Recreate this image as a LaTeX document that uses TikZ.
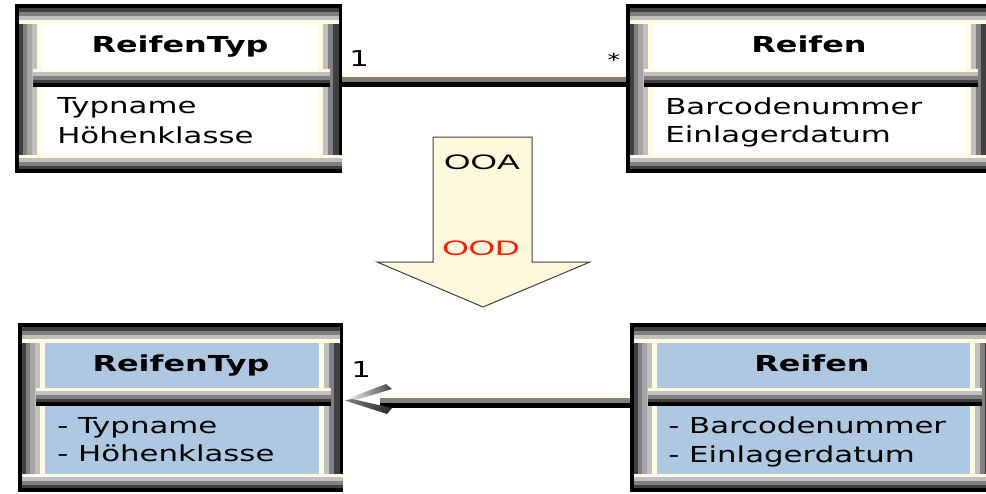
\documentclass[tikz,border=0pt]{standalone}
\usepackage{fontspec}
\newfontfamily\umlfont{DejaVu Sans}
\newfontfamily\arialfont{Liberation Sans}

\definecolor{umlcream}{RGB}{255,251,225}
\definecolor{umldark}{RGB}{64,64,64}
\definecolor{umlgray}{RGB}{128,128,128}
\definecolor{umlsilver}{RGB}{165,165,165}
\definecolor{umllight}{RGB}{192,192,192}
\definecolor{umlblue}{RGB}{174,200,225}
\definecolor{arrowfill}{RGB}{252,249,220}
\definecolor{oodred}{RGB}{255,30,0}

% bevelled class frame: name, x0, y0, width, height, interior colour
\newcommand\umlframe[6]{%
  \begin{scope}[shift={(#2,#3)}]
    \fill[black] (0,0) rectangle (#4,#5);
    % left bar
    \fill[umldark]   (4,20)  rectangle (8,#5-18);
    \fill[umlgray]   (8,20)  rectangle (12,#5-18);
    \fill[umlsilver] (12,20) rectangle (17,#5-18);
    \fill[umllight]  (17,20) rectangle (22,#5-18);
    \fill[umlcream]  (22,20) rectangle (27,#5-18);
    % right bar
    \fill[umlcream]  (#4-24,20) rectangle (#4-19,#5-18);
    \fill[umllight]  (#4-19,20) rectangle (#4-14,#5-18);
    \fill[umlgray]   (#4-14,20) rectangle (#4-9,#5-18);
    \fill[umldark]   (#4-9,20)  rectangle (#4-3,#5-18);
    % interior
    \fill[#6] (27,20) rectangle (#4-24,#5-18);
    % top band
    \fill[umldark]  (4,4)  rectangle (#4-3,8);
    \fill[umlgray]  (4,8)  rectangle (#4-3,12);
    \fill[umllight] (4,12) rectangle (#4-3,16);
    \fill[umlcream] (4,16) rectangle (#4-3,20);
    % bottom band
    \fill[umlcream] (4,#5-18) rectangle (#4,#5-15);
    \fill[umllight] (4,#5-15) rectangle (#4,#5-11);
    \fill[umlgray]  (4,#5-11) rectangle (#4,#5-7);
    \fill[umldark]  (4,#5-7)  rectangle (#4,#5-4);
    % compartment divider
    \fill[umlcream] (18,65) rectangle (#4-12,68);
    \fill[umllight] (18,68) rectangle (#4-12,72);
    \fill[umlgray]  (18,72) rectangle (#4-12,76);
    \fill[umldark]  (18,76) rectangle (#4-12,79);
    \fill[black]    (18,79) rectangle (#4-12,83);
  \end{scope}
  \node[inner sep=0pt, minimum width=#4pt, minimum height=#5pt]
    (#1) at ({#2+#4/2},{#3+#5/2}) {};
}

\tikzset{
  classtitle/.style={font=\umlfont\bfseries\fontsize{22}{26}\selectfont,
    xscale=1.45, anchor=base, inner sep=0pt},
  attr/.style={font=\umlfont\fontsize{22}{26}\selectfont,
    xscale=1.4, anchor=base west, inner sep=0pt},
  mult/.style={font=\umlfont\fontsize{22}{26}\selectfont,
    xscale=1.4, anchor=base west, inner sep=0pt},
  bandcream/.style={umlcream, line width=4pt},
  bandgray/.style={umlgray, line width=5pt},
  bandblack/.style={black, line width=5pt},
  steptext/.style={font=\arialfont\fontsize{21}{25}\selectfont,
    xscale=1.62, anchor=base, inner sep=0pt},
}

\begin{document}
\begin{tikzpicture}[x=1pt, y=-1pt]
  \useasboundingbox[fill=white] (0,0) rectangle (986,493);

  % analysis model
  \umlframe{typA}{15}{4}{327}{169}{white}
  \umlframe{reifA}{626}{4}{364}{169}{white}
  \node[classtitle] (typAt) at (180,52) {ReifenTyp};
  \node[attr] (typA1) at (57,113) {Typname};
  \node[attr] (typA2) at (57,143) {Höhenklasse};
  \node[classtitle] (reifAt) at (809,52) {Reifen};
  \node[attr] (reifA1) at (665,114) {Barcodenummer};
  \node[attr] (reifA2) at (665,142) {Einlagerdatum};

  % association
  \draw[bandcream] ([yshift=13.5pt]typA.east) -- ([yshift=13.5pt]reifA.west);
  \draw[bandgray]  ([yshift=9pt]typA.east)    -- ([yshift=9pt]reifA.west);
  \draw[bandblack] ([yshift=4pt]typA.east)    -- ([yshift=4pt]reifA.west);
  \node[mult] (m1) at (349,66) {1};
  \node[mult, anchor=base, font=\umlfont\fontsize{18}{22}\selectfont] (m2) at (614,66) {*};

  % transition arrow
  \draw[fill=arrowfill, draw=umldark, line width=1pt, line join=miter]
    (433,137) -- (532,137) -- (532,262) -- (590,262) -- (483,307)
    -- (377,262) -- (433,262) -- cycle;
  \node[steptext] (ooa) at (482,169) {OOA};
  \node[steptext, text=oodred] (ood) at (481,255) {OOD};

  % design model
  \umlframe{typD}{18}{323}{325}{169}{umlblue}
  \umlframe{reifD}{630}{323}{364}{169}{umlblue}
  \node[classtitle] (typDt) at (181,371) {ReifenTyp};
  \node[attr] (typD1) at (57,433) {- Typname};
  \node[attr] (typD2) at (57,461) {- Höhenklasse};
  \node[classtitle] (reifDt) at (812,371) {Reifen};
  \node[attr] (reifD1) at (668,433) {- Barcodenummer};
  \node[attr] (reifD2) at (668,462) {- Einlagerdatum};

  % directed association
  \coordinate (headend) at ([xshift=37pt]typD.east);
  \draw[bandcream] ([yshift=12.5pt]reifD.west) -- ([yshift=12.5pt]headend);
  \draw[bandgray]  ([yshift=7.5pt]reifD.west)  -- ([yshift=7.5pt]headend);
  \draw[bandblack] ([yshift=2pt]reifD.west)    -- ([yshift=2pt]headend);
  \shade[left color=white, right color=umldark]
    (345,399.5) -- (386,384) -- (392,389) -- (352,401) -- cycle;
  \shade[left color=umlgray, right color=black!85]
    (345,400.5) -- (352,399) -- (392,408) -- (387,414) -- cycle;
  \node[mult] (m3) at (351,377) {1};
\end{tikzpicture}
\end{document}
